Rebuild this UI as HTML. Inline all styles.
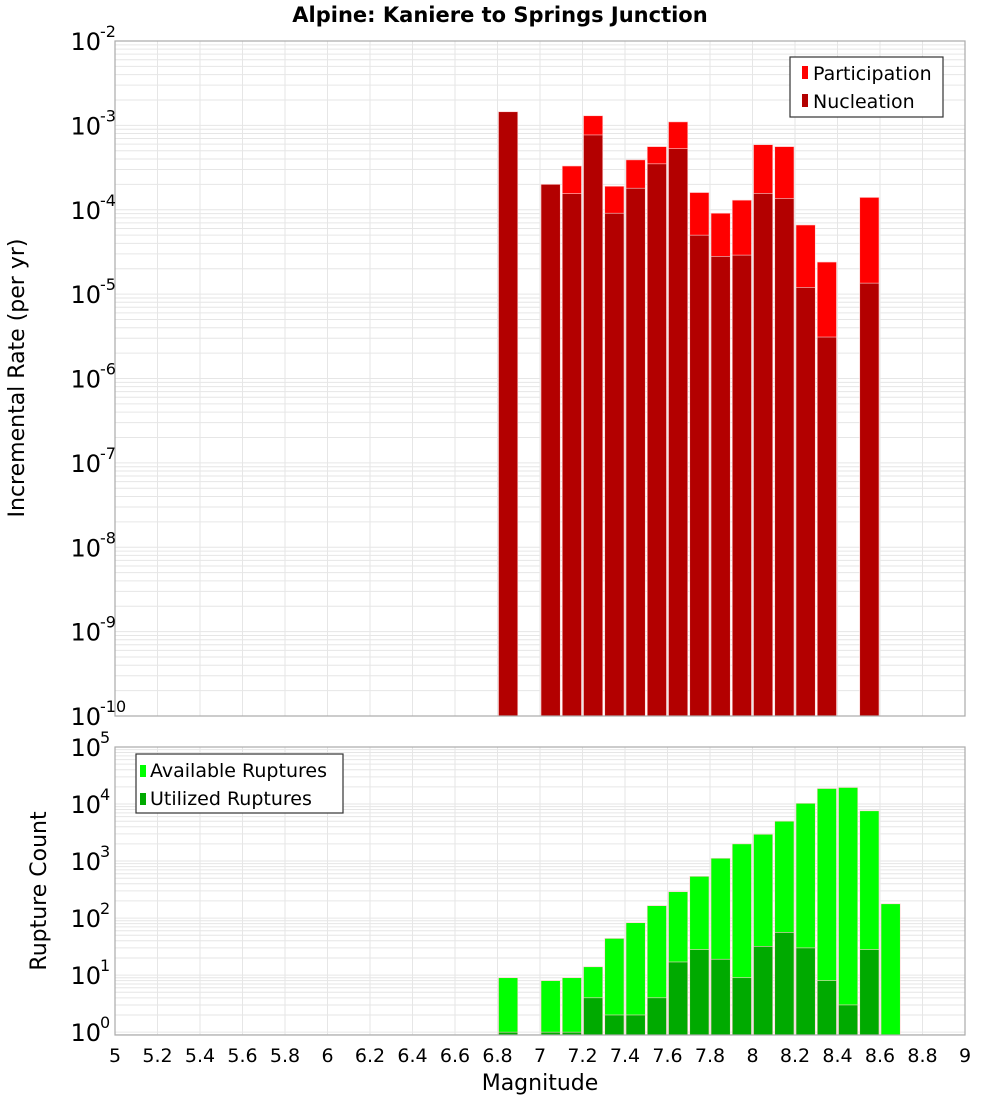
<!DOCTYPE html>
<html><head><meta charset="utf-8"><style>
body{margin:0;background:#fff;}
svg{display:block;font-family:"DejaVu Sans","Liberation Sans",sans-serif;}
</style></head><body>
<svg id="chart" width="1000" height="1100" viewBox="0 0 1000 1100">
<text x="500" y="22" text-anchor="middle" font-size="21" font-weight="bold">Alpine: Kaniere to Springs Junction</text>
<g id="top"></g>
<g id="bot"></g>
<text transform="translate(24,378) rotate(-90)" text-anchor="middle" font-size="22">Incremental Rate (per yr)</text>
<text transform="translate(46,891) rotate(-90)" text-anchor="middle" font-size="22">Rupture Count</text>
<text x="540" y="1090" text-anchor="middle" font-size="22">Magnitude</text>
<g>
<rect x="790" y="57" width="153" height="60" fill="#fff" stroke="#333" stroke-width="1.2"/>
<rect x="802" y="66" width="6" height="13" fill="#ff0000"/>
<text x="813" y="80" font-size="19">Participation</text>
<rect x="802" y="94" width="6" height="13" fill="#b30000"/>
<text x="813" y="108" font-size="19">Nucleation</text>
</g>
<g>
<rect x="136" y="754" width="207" height="59" fill="#fff" stroke="#333" stroke-width="1.2"/>
<rect x="140" y="765" width="6" height="12" fill="#00ff00"/>
<text x="150" y="777" font-size="19">Available Ruptures</text>
<rect x="140" y="793" width="6" height="12" fill="#00aa00"/>
<text x="150" y="805" font-size="19">Utilized Ruptures</text>
</g>
</svg>
<script>
const mags = [6.8,7.0,7.1,7.2,7.3,7.4,7.5,7.6,7.7,7.8,7.9,8.0,8.1,8.2,8.3,8.5];
const participation = [1.45e-3,2.0e-4,3.3e-4,1.3e-3,1.9e-4,3.9e-4,5.6e-4,1.1e-3,1.6e-4,9.1e-5,1.3e-4,5.9e-4,5.6e-4,6.6e-5,2.4e-5,1.4e-4];
const nucleation = [1.45e-3,2.0e-4,1.55e-4,7.7e-4,9.1e-5,1.8e-4,3.5e-4,5.3e-4,5.0e-5,2.8e-5,2.9e-5,1.56e-4,1.36e-4,1.2e-5,3.1e-6,1.35e-5];
const countMags = [6.8,7.0,7.1,7.2,7.3,7.4,7.5,7.6,7.7,7.8,7.9,8.0,8.1,8.2,8.3,8.4,8.5,8.6];
const available = [9,8,9,14,44,83,165,290,540,1120,2000,2950,5000,10300,18700,19500,7600,178];
const utilized = [1,1,1,4,2,2,4,17,28,19,9,32,56,30,8,3,28,0];
const xTicks = [5,5.2,5.4,5.6,5.8,6,6.2,6.4,6.6,6.8,7,7.2,7.4,7.6,7.8,8,8.2,8.4,8.6,8.8,9];
const xTickLabels = ["5","5.2","5.4","5.6","5.8","6","6.2","6.4","6.6","6.8","7","7.2","7.4","7.6","7.8","8","8.2","8.4","8.6","8.8","9"];
const topDecades = [-2,-3,-4,-5,-6,-7,-8,-9,-10];
const botDecades = [5,4,3,2,1,0];

const NS="http://www.w3.org/2000/svg";
const L=115,R=965;
const X=m=>L+(m-5)/4*(R-L);
const T={top:41,bot:716,min:-10,max:-2};
const B={top:747,bot:1035,min:-0.05,max:5};
const Y=(p,v)=>p.bot-(Math.log10(v)-p.min)/(p.max-p.min)*(p.bot-p.top);
function mk(tag,attrs,parent){const e=document.createElementNS(NS,tag);for(const k in attrs)e.setAttribute(k,attrs[k]);parent.appendChild(e);return e;}

function panel(g,p,decs,name){
  const bg=mk('rect',{x:L,y:p.top,width:R-L,height:p.bot-p.top,fill:'#fff'},g);
  
  
  for(let d=Math.floor(p.min);d<p.max;d++){
    for(let k=1;k<10;k++){
      const lv=d+Math.log10(k);
      if(lv<p.min||lv>p.max)continue;
      const y=Y(p,Math.pow(10,lv));
      const ln=mk('line',{x1:L,x2:R,y1:y,y2:y,stroke:'#e6e6e6','stroke-width':1},g);
      
      
    }
  }
  xTicks.forEach(t=>{
    const ln=mk('line',{x1:X(t),x2:X(t),y1:p.top,y2:p.bot,stroke:'#e6e6e6','stroke-width':1},g);
    
    
  });
  decs.forEach(d=>{
    const y=Y(p,Math.pow(10,d));
    const t=mk('text',{x:101,y:y+9,'text-anchor':'end','font-size':24},document.getElementById('chart'));
    t.textContent='10';
    
    
    const s=mk('text',{x:100,y:y-4,'font-size':16},document.getElementById('chart'));
    s.textContent=String(d);
    
    
  });
}
const gt=document.getElementById('top'), gb=document.getElementById('bot');
panel(gt,T,topDecades,'rate');
panel(gb,B,botDecades,'count');

const bw=(X(5.1)-X(5));
function bar(g,p,m,v,fill,nm){
  if(!(v>0))return;
  const y=Y(p,v);
  const r=mk('rect',{x:X(m)+1,y:y,width:bw-2,height:p.bot-y,fill:fill,stroke:'#ffd0d0','stroke-width':0.6},g);
  
  
}
mags.forEach((m,i)=>bar(gt,T,m,participation[i],'#ff0000','bar-participation-'+m));
mags.forEach((m,i)=>bar(gt,T,m,nucleation[i],'#b30000','bar-nucleation-'+m));
countMags.forEach((m,i)=>bar(gb,B,m,available[i],'#00ff00','bar-available-'+m));
countMags.forEach((m,i)=>bar(gb,B,m,utilized[i],'#00aa00','bar-utilized-'+m));

[T,B].forEach((p,j)=>{
  const f=mk('rect',{x:L,y:p.top,width:R-L,height:p.bot-p.top,fill:'none',stroke:'#aaa','stroke-width':1.2},j?gb:gt);
  
  
});
xTicks.forEach((t,i)=>{
  const tx=mk('text',{x:X(t),y:1062,'text-anchor':'middle','font-size':19},document.getElementById('chart'));
  tx.textContent=xTickLabels[i];
  
  
});
</script>
</body></html>
